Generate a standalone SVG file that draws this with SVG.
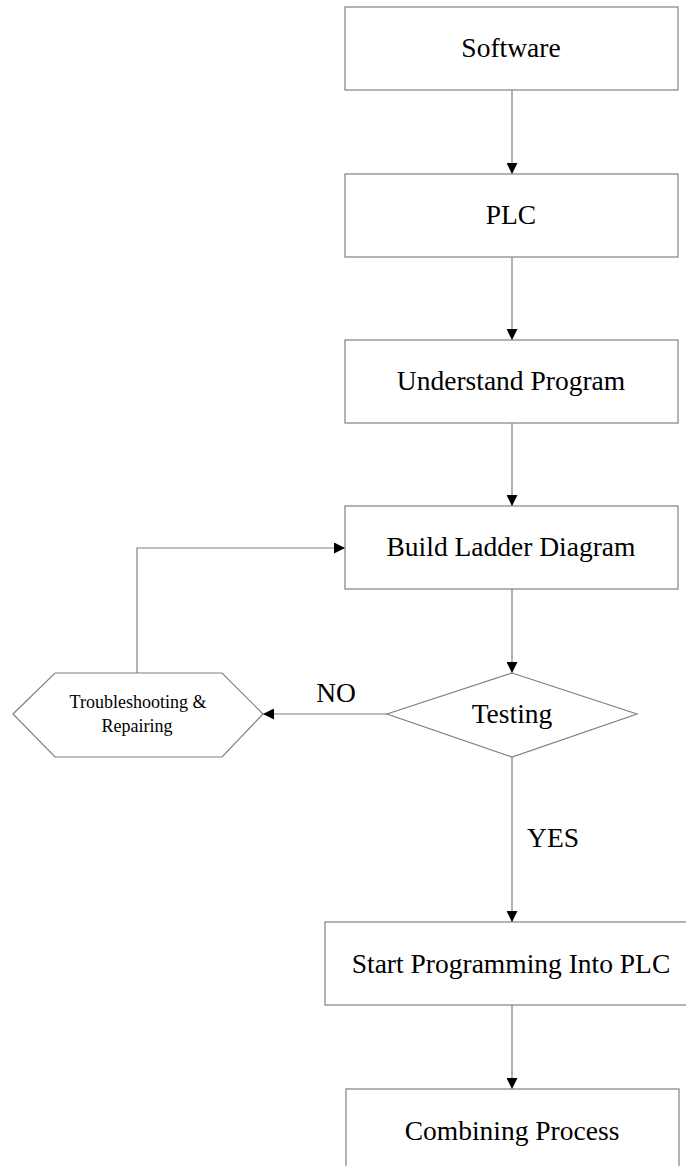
<svg xmlns="http://www.w3.org/2000/svg" width="686" height="1166" viewBox="0 0 686 1166">
<style>
.box{fill:#fff;stroke:#808080;stroke-width:1.2}
.t{font-family:"Liberation Serif","Times New Roman",serif;font-size:27.5px;fill:#000;text-anchor:middle}
.s{font-family:"Liberation Serif","Times New Roman",serif;font-size:18px;fill:#000;text-anchor:middle}
.c{fill:none;stroke:#808080;stroke-width:1.2}
</style>
<defs>
<marker id="ah" viewBox="0 0 10 10" refX="10" refY="5" markerWidth="11" markerHeight="11" markerUnits="userSpaceOnUse" orient="auto">
<path d="M0,0 L10,5 L0,10 Z" fill="#000"/>
</marker>
</defs>
<rect width="686" height="1166" fill="#fff"/>
<g id="connectors">
<line class="c" x1="512" y1="90" x2="512" y2="174" marker-end="url(#ah)"/>
<line class="c" x1="512" y1="257" x2="512" y2="340" marker-end="url(#ah)"/>
<line class="c" x1="512" y1="423" x2="512" y2="506" marker-end="url(#ah)"/>
<line class="c" x1="512" y1="589" x2="512" y2="673" marker-end="url(#ah)"/>
<line class="c" x1="387" y1="714" x2="263" y2="714" marker-end="url(#ah)"/>
<polyline class="c" points="137,673 137,548 345,548" marker-end="url(#ah)"/>
<line class="c" x1="512" y1="757" x2="512" y2="922" marker-end="url(#ah)"/>
<line class="c" x1="512" y1="1005" x2="512" y2="1089" marker-end="url(#ah)"/>
<text class="t" x="336" y="702">NO</text>
<text class="t" x="553" y="847">YES</text>
</g>
<g id="software"><rect class="box" x="345" y="7" width="333" height="83"/><text class="t" x="511" y="57">Software</text></g>
<g id="plc"><rect class="box" x="345" y="174" width="333" height="83"/><text class="t" x="511" y="224">PLC</text></g>
<g id="understand"><rect class="box" x="345" y="340" width="333" height="83"/><text class="t" x="511" y="390">Understand Program</text></g>
<g id="build"><rect class="box" x="345" y="506" width="333" height="83"/><text class="t" x="511" y="556">Build Ladder Diagram</text></g>
<g id="testing"><polygon class="box" points="512,673 637,714 512,757 387,714"/><text class="t" x="512" y="723">Testing</text></g>
<g id="troubleshooting"><polygon class="box" points="13,714 55,673 222,673 263,714 222,757 55,757"/><text class="s" x="138" y="708">Troubleshooting &amp;</text><text class="s" x="137" y="732">Repairing</text></g>
<g id="start"><rect class="box" x="325" y="922" width="370" height="83"/><text class="t" x="511" y="973">Start Programming Into PLC</text></g>
<g id="combining"><rect class="box" x="346" y="1089" width="333" height="90"/><text class="t" x="512" y="1140">Combining Process</text></g>
</svg>
